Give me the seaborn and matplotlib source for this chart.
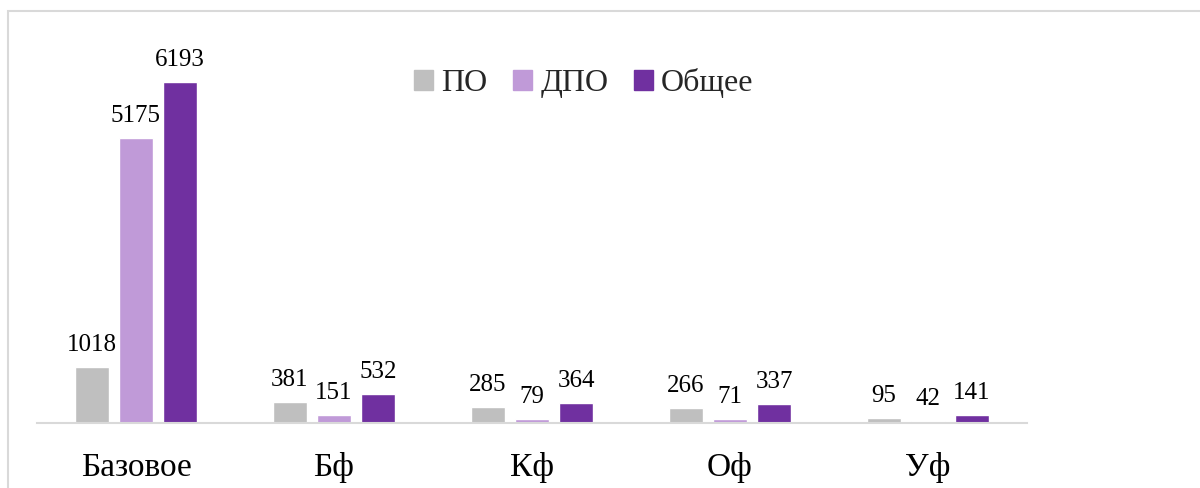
import seaborn as sns
import matplotlib.pyplot as plt
import matplotlib.patches as mpatches
import pandas as pd

categories = ['Базовое', 'Бф', 'Кф', 'Оф', 'Уф']
series = ['ПО', 'ДПО', 'Общее']
po = [1018, 381, 285, 266, 95]
dpo = [5175, 151, 79, 71, 42]
total = [6193, 532, 364, 337, 141]
colors = ['#BFBFBF', '#C09AD8', '#7030A0']

df = pd.DataFrame({
    'cat': categories * 3,
    'series': [series[0]] * 5 + [series[1]] * 5 + [series[2]] * 5,
    'value': po + dpo + total,
})

sns.set_theme(style='white')
plt.rcParams['font.family'] = ['Liberation Serif', 'DejaVu Serif']

fig = plt.figure(figsize=(12, 4.88), dpi=100)
ax = fig.add_axes([37 / 1200, 1 - 423 / 488, 990 / 1200, (423 - 38) / 488])

sns.barplot(data=df, x='cat', y='value', hue='series', palette=colors,
            width=0.667, gap=0.23, ax=ax, legend=False, saturation=1)

for cont in ax.containers:
    ax.bar_label(cont, fmt='%d', padding=8, fontsize=18, color='#000000')

ax.set_ylim(0, 7000)
ax.set_xlim(-0.5, 4.5)
ax.set_xlabel('')
ax.set_ylabel('')
ax.set_yticks([])
for s in ['top', 'right', 'left']:
    ax.spines[s].set_visible(False)
ax.spines['bottom'].set_color('#D9D9D9')
ax.spines['bottom'].set_linewidth(1.5)
ax.tick_params(axis='x', length=0, pad=21, labelsize=24, colors='#000000')

handles = [mpatches.Patch(color=c, label=s) for c, s in zip(colors, series)]
fig.legend(handles=handles, loc='center', bbox_to_anchor=(584 / 1200, 1 - 83 / 488),
           ncol=3, frameon=False, fontsize=23, handlelength=0.6, handleheight=0.6,
           handletextpad=0.25, columnspacing=0.8)

border = mpatches.Rectangle((8 / 1200, -0.1), 1.5, 1.1 - 11 / 488, transform=fig.transFigure,
                            fill=False, edgecolor='#D9D9D9', linewidth=1.5)
fig.patches.append(border)

fig.savefig('out.png', dpi=100)
